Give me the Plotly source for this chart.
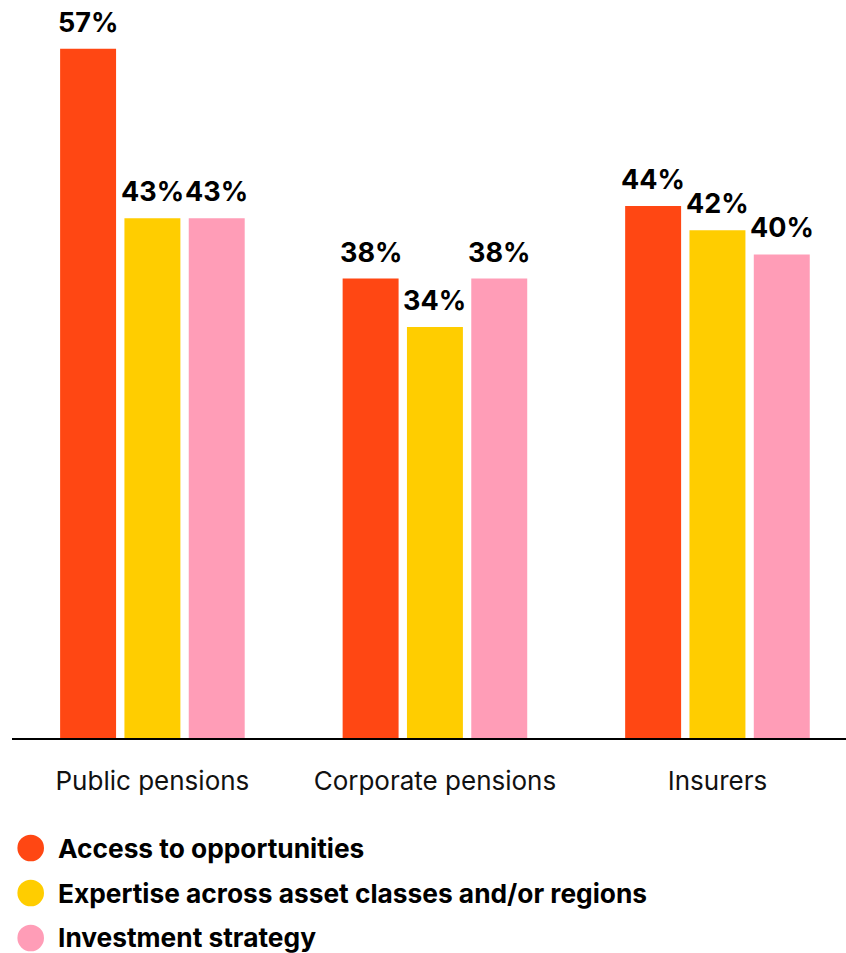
import plotly.graph_objects as go

# Share of respondents citing each reason, by institution type
categories = ["Public pensions", "Corporate pensions", "Insurers"]
series_names = [
    "Access to opportunities",
    "Expertise across asset classes and/or regions",
    "Investment strategy",
]
access_values = [57, 38, 44]
expertise_values = [43, 34, 42]
strategy_values = [43, 38, 40]

series_values = [access_values, expertise_values, strategy_values]
colors = ["#FF4713", "#FFCD00", "#FF9DB7"]

W, H = 846, 953
M_L, M_R, M_T, M_B = 12, 0, 0, 215
BARGAP = 0.317
BARGROUPGAP = 0.13
FONT = "Inter"

fig = go.Figure()
for name, vals, col in zip(series_names, series_values, colors):
    fig.add_trace(go.Bar(
        x=categories, y=vals, name=name,
        marker=dict(color=col, line=dict(width=0)),
        showlegend=False,
    ))

# Value labels above each bar, offset within the group by slot width
n = len(series_values)
slot = (1 - BARGAP) / n
annotations = []
for j, vals in enumerate(series_values):
    for i, v in enumerate(vals):
        annotations.append(dict(
            x=i + (j - (n - 1) / 2) * slot, y=v, xref="x", yref="y",
            text=f"<b>{v}%</b>", showarrow=False,
            xanchor="center", yanchor="bottom", yshift=8,
            font=dict(family=FONT, size=27, color="#000000"),
        ))

# Legend drawn as circles plus bold labels below the axis
plot_w = W - M_L - M_R
plot_h = H - M_T - M_B
row_px = [848, 893, 938]
shapes = []
for name, col, py in zip(series_names, colors, row_px):
    yp = (plot_h - (py - M_T)) / plot_h
    shapes.append(dict(
        type="circle", xref="paper", yref="paper",
        xsizemode="pixel", ysizemode="pixel",
        xanchor=(30.7 - M_L) / plot_w, yanchor=yp,
        x0=-13.3, x1=13.3, y0=-13.3, y1=13.3,
        fillcolor=col, line=dict(width=0),
    ))
    annotations.append(dict(
        x=(56 - M_L) / plot_w, y=yp, xref="paper", yref="paper",
        text=f"<b>{name}</b>", showarrow=False,
        xanchor="left", yanchor="middle",
        font=dict(family=FONT, size=26.3, color="#000000"),
    ))

px_per_unit = 12.09
fig.update_layout(
    width=W, height=H,
    margin=dict(l=M_L, r=M_R, t=M_T, b=M_B, pad=0),
    paper_bgcolor="white", plot_bgcolor="white",
    barmode="group", bargap=BARGAP, bargroupgap=BARGROUPGAP,
    annotations=annotations, shapes=shapes,
    font=dict(family=FONT, color="#000000"),
    xaxis=dict(
        range=[-0.497, 2.455], showline=True, linecolor="#000000", linewidth=2,
        ticks="", showgrid=False, zeroline=False,
        tickfont=dict(family=FONT, size=26, color="#111111"),
        ticklabelstandoff=19,
    ),
    yaxis=dict(
        range=[0, plot_h / px_per_unit], visible=False,
        showgrid=False, zeroline=False,
    ),
)

fig.write_html("out.html")
